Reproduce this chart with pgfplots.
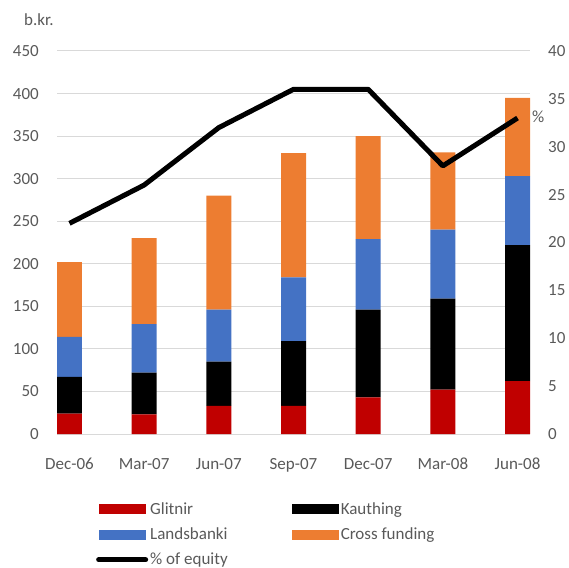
\documentclass[border=0pt]{standalone}
\usepackage{fontspec}
\setmainfont{Carlito}
\usepackage{pgfplots}
\pgfplotsset{compat=1.18}
\definecolor{cRed}{HTML}{C00000}
\definecolor{cBlue}{HTML}{4472C4}
\definecolor{cOrange}{HTML}{ED7D31}
\definecolor{cText}{HTML}{595959}
\definecolor{cGrid}{HTML}{D9D9D9}
\begin{document}
\begin{tikzpicture}[x=1pt,y=1pt,font=\fontsize{17}{20}\selectfont]
\useasboundingbox (0,0) rectangle (569,567);
\pgfplotsset{
  base/.style={
    at={(57pt,133pt)}, anchor=south west,
    scale only axis, width=473pt, height=383pt,
    xmin=-0.1672, xmax=6.1672,
    axis line style={draw=none}, tick style={draw=none},
    /pgf/number format/assume math mode=true,
    ticklabel style={font=\fontsize{17}{20}\selectfont, text=cText},
  }
}
\begin{axis}[base,
  ybar stacked, bar width=25pt,
  ymin=0, ymax=450, ytick={0,50,...,450},
  xtick={0,...,6},
  xticklabels={Dec-06,Mar-07,Jun-07,Sep-07,Dec-07,Mar-08,Jun-08},
  ymajorgrids, grid style={cGrid, line width=1pt},
  yticklabel style={anchor=east, inner sep=0pt, xshift=-18pt},
  xticklabel style={anchor=north, inner sep=0pt, yshift=-24pt},
  legend image code/.code={\fill[#1] (3pt,-5pt) rectangle (50pt,5pt);},
  legend columns=2, legend cell align=left,
  legend style={at={(0.076,-0.168)}, anchor=north west, draw=none, fill=none,
    text=cText, font=\fontsize{17}{20}\selectfont, row sep=8pt,
    nodes={inner xsep=2pt},
    /tikz/every even column/.append style={column sep=62pt}},
]
\addplot[fill=cRed, draw=none] coordinates {(0,24)(1,23)(2,33)(3,33)(4,43)(5,52)(6,62)};
\addlegendentry{Glitnir}
\addplot[fill=black, draw=none] coordinates {(0,43)(1,49)(2,52)(3,76)(4,103)(5,107)(6,160)};
\addlegendentry{Kauthing}
\addplot[fill=cBlue, draw=none] coordinates {(0,47)(1,57)(2,61)(3,75)(4,83)(5,81)(6,81)};
\addlegendentry{Landsbanki}
\addplot[fill=cOrange, draw=none] coordinates {(0,88)(1,101)(2,134)(3,146)(4,121)(5,91)(6,92)};
\addlegendentry{Cross funding}
\addlegendimage{legend image code/.code={\draw[black, line width=5pt, line cap=round] (3pt,0pt) -- (50pt,0pt);}}
\addlegendentry{\% of equity}
\end{axis}
\begin{axis}[base,
  ymin=0, ymax=40, ytick={0,5,...,40},
  xtick=\empty,
  yticklabel pos=right,
  yticklabel style={anchor=west, inner sep=0pt, xshift=18pt},
]
\addplot[black, line width=5pt, line join=round] coordinates {(0,22)(1,26)(2,32)(3,36)(4,36)(5,28)(6,33)};
\end{axis}
\node[anchor=west, text=cText, inner sep=0pt] at (24,547) {b.kr.};
\node[anchor=west, text=cText, inner sep=0pt] at (532,450) {\%};
\end{tikzpicture}
\end{document}
